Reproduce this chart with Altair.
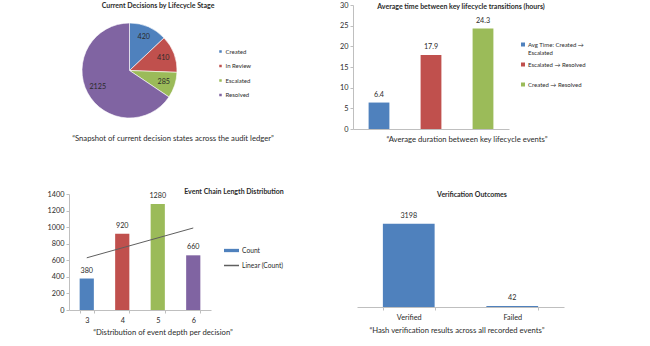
import altair as alt
import pandas as pd

# ---------------- data ----------------
stage_names = ["Created", "In Review", "Escalated", "Resolved"]
stage_counts = [420, 410, 285, 2125]

transition_names = ["Avg Time: Created → Escalated", "Escalated → Resolved", "Created → Resolved"]
transition_hours = [6.4, 17.9, 24.3]

chain_depths = [3, 4, 5, 6]
chain_counts = [380, 920, 1280, 660]

outcome_names = ["Verified", "Failed"]
outcome_counts = [3198, 42]

panel_titles = [
    "Current Decisions by Lifecycle Stage",
    "Average time between key lifecycle transitions (hours)",
    "Event Chain Length Distribution",
    "Verification Outcomes",
]
panel_captions = [
    "“Snapshot of current decision states across the audit ledger”",
    "“Average duration between key lifecycle events”",
    "“Distribution of event depth per decision”",
    "“Hash verification results across all recorded events”",
]

# ---------------- style ----------------
palette = ["#4F81BD", "#C0504D", "#9BBB59", "#8064A2"]
FONT = "Lato"
TXT = "#2b2b2b"
AXC = "#BFBFBF"


def text_item(txt, x, y, size, bold=False, align="center"):
    return alt.Chart(pd.DataFrame({"t": [txt]})).mark_text(
        font=FONT, fontSize=size, fontWeight="bold" if bold else "normal",
        color=TXT, align=align, baseline="middle"
    ).encode(text="t:N", x=alt.value(x), y=alt.value(y))


def legend(x, y, size=6, **kw):
    return alt.Legend(title=None, orient="none", legendX=x, legendY=y, padding=0,
                      labelFont=FONT, labelFontSize=size, labelColor=TXT, **kw)


# ---------------- panel 1 : pie ----------------
pie_df = pd.DataFrame({"stage": stage_names, "n": stage_counts, "k": list(range(len(stage_names)))})
PCX, PCY = 129.5, 70.5
pie = alt.Chart(pie_df).mark_arc(outerRadius=47.5, stroke="white", strokeWidth=0.6).encode(
    theta=alt.Theta("n:Q", stack=True),
    order=alt.Order("k:Q"),
    color=alt.Color("stage:N", scale=alt.Scale(domain=stage_names, range=palette),
                    legend=legend(217.5, 48.5, symbolType="square", symbolSize=16,
                                  labelOffset=2, rowPadding=4.5)),
    x=alt.value(PCX), y=alt.value(PCY),
)
pie_text = alt.Chart(pie_df).mark_text(radius=36, font=FONT, fontSize=7.2, color=TXT).encode(
    theta=alt.Theta("n:Q", stack=True),
    order=alt.Order("k:Q"),
    text="n:Q",
    x=alt.value(PCX), y=alt.value(PCY),
)

# ---------------- panel 2 : transition times ----------------
t_df = pd.DataFrame({"transition": transition_names, "hours": transition_hours})
x2s = alt.Scale(domain=transition_names, range=[353, 509], paddingInner=0.6, paddingOuter=0.3)
y2s = alt.Scale(domain=[0, 30], range=[129, 5], nice=False)
bars2 = alt.Chart(t_df).mark_bar().encode(
    x=alt.X("transition:N", sort=transition_names, scale=x2s,
            axis=alt.Axis(orient="bottom", offset=-217, labels=False, ticks=False, title=None,
                          domainColor=AXC, grid=False)),
    y=alt.Y("hours:Q", scale=y2s,
            axis=alt.Axis(orient="left", offset=-353, values=[0, 5, 10, 15, 20, 25, 30], title=None,
                          grid=False, domainColor=AXC, tickColor=AXC, tickSize=3,
                          labelFont=FONT, labelFontSize=7.3, labelColor=TXT, labelPadding=2)),
    color=alt.Color("transition:N", scale=alt.Scale(domain=transition_names, range=palette[:3]),
                    legend=legend(520, 41.5, symbolType="square", symbolSize=16, labelOffset=2,
                                  rowPadding=6,
                                  labelExpr="datum.label == 'Avg Time: Created → Escalated' ? "
                                            "['Avg Time: Created →', 'Escalated'] : [datum.label, '']")),
)
bars2_text = alt.Chart(t_df).mark_text(dy=-8, font=FONT, fontSize=7.2, color=TXT).encode(
    x=alt.X("transition:N", sort=transition_names, scale=x2s, axis=None),
    y=alt.Y("hours:Q", scale=y2s, axis=None),
    text=alt.Text("hours:Q", format=".1f"),
)

# ---------------- panel 3 : chain length ----------------
c_df = pd.DataFrame({"depth": chain_depths, "count": chain_counts})
x3s = alt.Scale(domain=chain_depths, range=[69, 211], paddingInner=0.6, paddingOuter=0.3)
y3s = alt.Scale(domain=[0, 1400], range=[310, 194], nice=False)
bars3 = alt.Chart(c_df).mark_bar().encode(
    x=alt.X("depth:O", scale=x3s,
            axis=alt.Axis(orient="bottom", offset=-36, title=None, labelAngle=0, tickBand="extent",
                          tickSize=3, tickColor=AXC, domainColor=AXC, grid=False,
                          labelFont=FONT, labelFontSize=7.3, labelColor=TXT, labelPadding=3)),
    y=alt.Y("count:Q", scale=y3s,
            axis=alt.Axis(orient="left", offset=-69, values=list(range(0, 1401, 200)), title=None,
                          format="d", grid=False, domainColor=AXC, tickColor=AXC, tickSize=3,
                          labelFont=FONT, labelFontSize=7.3, labelColor=TXT, labelPadding=2)),
    color=alt.Color("depth:O", scale=alt.Scale(domain=chain_depths, range=palette), legend=None),
)
bars3_text = alt.Chart(c_df).mark_text(dy=-8, font=FONT, fontSize=7.2, color=TXT).encode(
    x=alt.X("depth:O", scale=x3s, axis=None),
    y=alt.Y("count:Q", scale=y3s, axis=None),
    text="count:Q",
)
trend = alt.Chart(c_df).transform_regression(
    "depth", "count", method="linear", extent=[3, 6]
).transform_calculate(series="'Linear (Count)'").mark_line(strokeWidth=1).encode(
    x=alt.X("depth:Q", scale=alt.Scale(domain=[2.5, 6.5], range=[69, 211], nice=False, zero=False), axis=None),
    y=alt.Y("count:Q", scale=y3s, axis=None),
    stroke=alt.Stroke("series:N", scale=alt.Scale(domain=["Linear (Count)"], range=["#5f5f5f"]),
                      legend=legend(223, 257, size=6.7, symbolType="stroke", symbolSize=225,
                                    symbolStrokeWidth=1.5, labelOffset=2)),
)
count_key = alt.Chart(pd.DataFrame({"series": ["Count"]})).transform_filter("false").mark_bar().encode(
    color=alt.Color("series:N", scale=alt.Scale(domain=["Count"], range=[palette[0]]),
                    legend=legend(223, 242, size=6.7, symbolType="M-1,-0.22H1V0.22H-1Z",
                                  symbolSize=225, labelOffset=2)),
)

# ---------------- panel 4 : verification ----------------
o_df = pd.DataFrame({"outcome": outcome_names, "n": outcome_counts})
x4s = alt.Scale(domain=outcome_names, range=[357, 564], paddingInner=0.5, paddingOuter=0.25)
y4s = alt.Scale(domain=[0, 3500], range=[307, 216], nice=False)
bars4 = alt.Chart(o_df).mark_bar(color=palette[0]).encode(
    x=alt.X("outcome:N", sort=outcome_names, scale=x4s,
            axis=alt.Axis(orient="bottom", offset=-39, title=None, labelAngle=0, tickBand="extent",
                          tickSize=3, tickColor=AXC, domainColor=AXC, grid=False,
                          labelFont=FONT, labelFontSize=7.3, labelColor=TXT, labelPadding=3)),
    y=alt.Y("n:Q", scale=y4s, axis=None),
)
bars4_text = alt.Chart(o_df).mark_text(dy=-8, font=FONT, fontSize=7.2, color=TXT).encode(
    x=alt.X("outcome:N", sort=outcome_names, scale=x4s, axis=None),
    y=alt.Y("n:Q", scale=y4s, axis=None),
    text="n:Q",
)

# ---------------- titles & captions ----------------
texts = [
    text_item(panel_titles[0], 158, 6, 7, bold=True),
    text_item(panel_titles[1], 461, 7, 7, bold=True),
    text_item(panel_titles[2], 234, 192, 7, bold=True),
    text_item(panel_titles[3], 472, 195, 7, bold=True),
    text_item(panel_captions[0], 173, 139, 7.7),
    text_item(panel_captions[1], 467, 140, 7.7),
    text_item(panel_captions[2], 163, 333, 7.7),
    text_item(panel_captions[3], 457, 331, 7.7),
]

chart = alt.layer(
    pie, pie_text,
    bars2, bars2_text,
    bars3, trend, bars3_text, count_key,
    bars4, bars4_text,
    *texts,
).resolve_scale(
    x="independent", y="independent", color="independent", stroke="independent"
).properties(
    width=650, height=346, autosize=alt.AutoSizeParams(type="none"), padding=0, background="white"
).configure_view(strokeWidth=0)

chart.save("out.html", embed_options={"renderer": "svg", "actions": False})
